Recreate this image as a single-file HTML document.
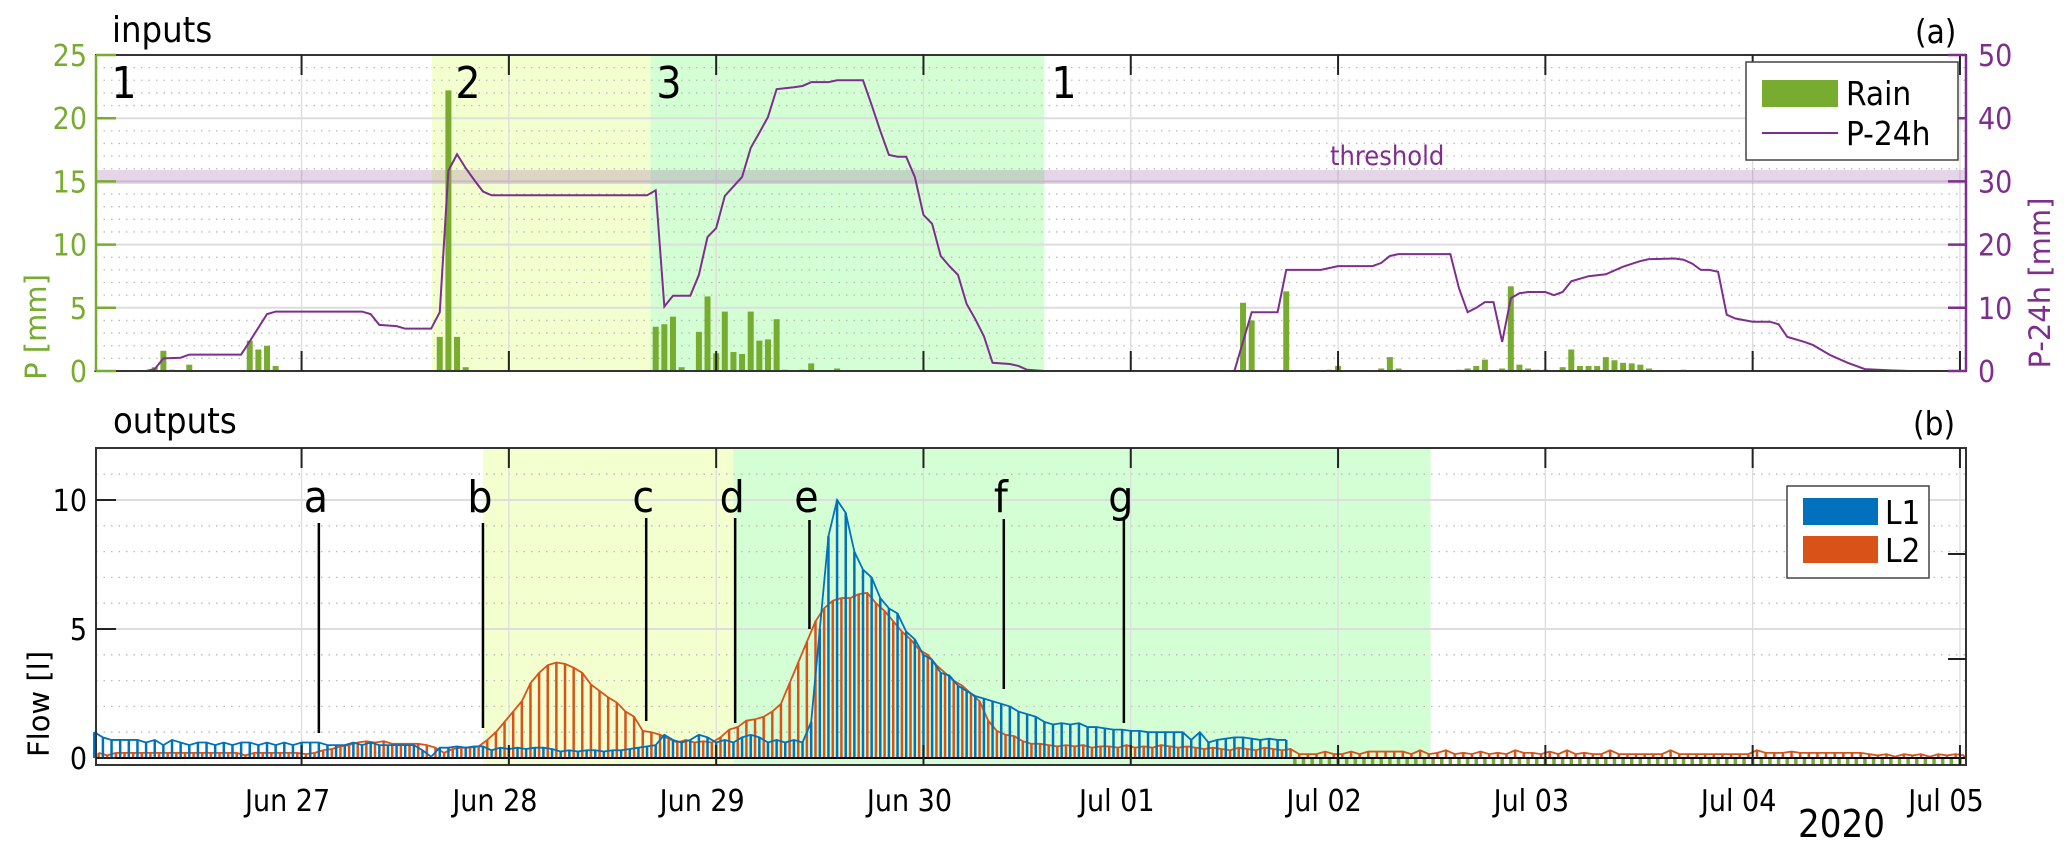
<!DOCTYPE html>
<html><head><meta charset="utf-8"><style>
body{margin:0;background:#fff}
svg{display:block;font-family:"DejaVu Sans Condensed","DejaVu Sans","Liberation Sans",sans-serif}
</style></head><body>
<svg id="chart" width="2067" height="850" viewBox="0 0 2067 850" xmlns="http://www.w3.org/2000/svg">
<g id="bg"></g><g id="grid"></g><g id="marks"></g><g id="axes"></g><g id="labels"></g>
</svg>
<script>
// ---- data ----
const dayLabels = ["Jun 27","Jun 28","Jun 29","Jun 30","Jul 01","Jul 02","Jul 03","Jul 04","Jul 05"];
const leftTicksTop = [0,5,10,15,20,25];
const rightTicksTop = [0,10,20,30,40,50];
const leftTicksBottom = [0,5,10];
const rainHours = [7,8,9,11,18,19,20,21,40,41,42,43,65,66,67,68,70,71,72,73,74,75,76,77,78,79,80,82,83,86,133,134,138,143,144,149,150,151,158,159,160,161,163,164,165,166,167,168,170,171,172,173,174,175,176,177,178,179,180,184];
const rainValues = [0.3,1.6,0.1,0.5,2.4,1.7,2.0,0.4,2.7,22.2,2.7,0.3,3.5,3.7,4.3,0.3,3.1,5.9,1.4,4.7,1.5,1.35,4.7,2.4,2.5,4.1,0.1,0.1,0.6,0.2,5.4,4.0,6.3,0.1,0.4,0.2,1.1,0.2,0.1,0.2,0.4,0.9,0.2,6.7,0.5,0.2,0.1,0.1,0.3,1.7,0.4,0.4,0.4,1.1,0.85,0.65,0.6,0.5,0.2,0.1];
const p24Hours = [0,6,7,8,10,11,17,18,20,21,31,32,33,35,36,39,40,41,42,43,44,45,46,64,65,66,67,69,70,71,72,73,75,76,77,78,79,81,82,83,85,86,89,90,91,92,93,94,95,96,97,98,99,100,101,102,103,104,106,107,108,110,132,134,137,138,142,144,148,149,150,151,157,158,159,160,161,162,163,164,165,166,168,169,170,171,173,175,177,179,180,183,184,185,186,187,188,189,190,192,194,195,196,198,199,201,203,205,208,210,216];
const p24Values = [0,0,0.3,2.0,2.1,2.6,2.6,4.7,9.0,9.4,9.4,9.0,7.3,7.1,6.7,6.7,9.3,31.7,34.3,32.1,30.2,28.4,27.8,27.8,28.6,10.2,11.9,11.9,15.2,21.2,22.6,27.7,30.7,35.3,37.7,40.2,44.6,44.9,45.1,45.7,45.7,46.0,46.0,42.1,38.0,34.2,33.9,33.9,30.7,24.7,23.3,18.2,16.6,15.2,10.6,8.2,5.5,1.3,1.1,0.8,0.2,0,0,9.3,9.3,16.0,16.0,16.6,16.6,17.1,18.2,18.5,18.5,13.1,9.3,10.0,10.9,10.9,4.6,11.5,12.3,12.5,12.5,12.0,12.5,14.2,15.0,15.3,16.5,17.4,17.7,17.8,17.6,17.0,16.0,16.0,15.7,8.9,8.3,7.8,7.8,7.4,5.4,4.6,4.1,2.5,1.3,0.3,0.1,0,0];
const l1Flow = [1.0,0.8,0.7,0.7,0.7,0.7,0.6,0.7,0.5,0.7, 0.6,0.5,0.6,0.6,0.5,0.6,0.5,0.6,0.6,0.5, 0.6,0.5,0.6,0.5,0.6,0.6,0.6,0.5,0.5,0.5, 0.6,0.5,0.6,0.5,0.5,0.5,0.5,0.5,0.3,0.05, 0.4,0.4,0.45,0.4,0.45,0.45,0.3,0.4,0.35,0.4, 0.35,0.4,0.4,0.35,0.25,0.3,0.25,0.3,0.3,0.25, 0.3,0.3,0.35,0.4,0.45,0.5,0.9,0.7,0.6,0.7, 0.9,0.8,0.6,0.7,0.6,0.8,0.9,0.8,0.6,0.7, 0.6,0.7,0.6,1.4,5.0,8.6,10.0,9.5,8.0,7.3, 7.0,6.2,5.8,5.6,4.9,4.6,4.0,3.8,3.3,3.2, 2.8,2.6,2.4,2.3,2.2,2.1,2.0,1.8,1.7,1.6, 1.4,1.3,1.35,1.3,1.35,1.2,1.2,1.15,1.1,1.1, 1.05,1.05,1.0,1.0,1.0,1.0,1.0,0.7,1.0,0.6, 0.7,0.75,0.8,0.8,0.75,0.7,0.75,0.7,0.7];
const l2Flow = [0.2,0.1,0.2,0.2,0.2,0.2,0.2,0.2,0.2,0.2, 0.2,0.2,0.2,0.2,0.2,0.2,0.2,0.1,0.2,0.2, 0.2,0.2,0.2,0.2,0.15,0.2,0.3,0.35,0.45,0.5, 0.6,0.65,0.6,0.65,0.55,0.55,0.55,0.55,0.5,0.4, 0.2,0.35,0.4,0.4,0.45,0.7,1.0,1.4,1.8,2.2, 2.9,3.3,3.6,3.7,3.65,3.5,3.3,2.85,2.6,2.35, 2.15,1.8,1.6,1.05,1.0,0.9,0.75,0.6,0.7,0.6, 0.65,0.6,0.8,1.1,1.2,1.45,1.5,1.6,1.8,2.1, 2.9,3.7,4.5,5.3,5.8,6.1,6.2,6.2,6.35,6.4, 6.0,5.7,5.3,4.9,4.6,4.2,4.0,3.6,3.3,3.0, 2.8,2.5,2.2,1.45,1.05,0.9,0.85,0.65,0.55,0.55, 0.5,0.45,0.5,0.45,0.5,0.4,0.45,0.45,0.4,0.5, 0.4,0.45,0.4,0.5,0.45,0.4,0.45,0.4,0.35,0.4, 0.35,0.3,0.4,0.35,0.3,0.4,0.35,0.3,0.35,0.15, 0.15,0.15,0.25,0.15,0.15,0.25,0.15,0.25,0.25,0.25, 0.25,0.25,0.15,0.3,0.15,0.2,0.3,0.15,0.2,0.15, 0.25,0.15,0.2,0.15,0.3,0.2,0.2,0.15,0.25,0.15, 0.3,0.15,0.2,0.15,0.15,0.3,0.15,0.15,0.15,0.15, 0.15,0.15,0.3,0.15,0.15,0.15,0.15,0.15,0.15,0.15, 0.15,0.15,0.3,0.2,0.2,0.2,0.25,0.2,0.2,0.2, 0.2,0.2,0.2,0.2,0.2,0.15,0.1,0.15,0.05,0.15, 0.1,0.15,0.05,0.15,0.1,0.15,0.1];
const l3Start = 139, l3End = 216, l3Value = -0.3;
const topPeriods = [[39.1,64.4,"#f4ffd0"],[64.4,110,"#d4ffd4"]];
const bottomPeriods = [[45,74,"#f4ffd0"],[74,154.7,"#d4ffd4"]];
const threshold = [29.6,31.8];
const periodLabels = [["1",124],["2",468],["3",669],["1",1064]];
const eventNames = ["a","b","c","d","e","f","g"];
const eventHours = [26.0,45.0,63.9,74.2,82.8,105.3,119.2];
const eventTops = [523,523,518,518,520,519,520];
const eventBottoms = [733,728,721,723,629,689,723];

// ---- scales ----
const H0=0.2,H1=216.7,XL=96,XR=1966;
const X=h=>XL+(h-H0)*(XR-XL)/(H1-H0);
const TT=55,TB=371;
const YL=v=>TB-v*(TB-TT)/25;
const YR=v=>TB-v*(TB-TT)/50;
const BT=448,BB=765,B0=758;
const YB=v=>B0-v*25.8;
const dayHour=i=>24*(i+1);

const NS="http://www.w3.org/2000/svg";
function mk(parent,tag,attrs,text){const e=document.createElementNS(NS,tag);for(const k in attrs)e.setAttribute(k,attrs[k]);if(text!==undefined)e.textContent=text;document.getElementById(parent).appendChild(e);return e;}

// backgrounds
topPeriods.forEach(p=>{const r=mk("bg","rect",{x:X(p[0]),y:TT,width:X(p[1])-X(p[0]),height:TB-TT,fill:p[2]});

});
bottomPeriods.forEach(p=>{const r=mk("bg","rect",{x:X(p[0]),y:BT,width:X(p[1])-X(p[0]),height:BB-BT,fill:p[2]});

});

// grid
for(let v=1;v<25;v++){if(v%5)mk("grid","line",{x1:XL,x2:XR,y1:YL(v),y2:YL(v),stroke:"#bbb","stroke-width":1.3,"stroke-dasharray":"1.5 6"});}
for(let v=5;v<25;v+=5)mk("grid","line",{x1:XL,x2:XR,y1:YL(v),y2:YL(v),stroke:"#ddd","stroke-width":2});
for(let v=1;v<12;v++){if(v%5)mk("grid","line",{x1:XL,x2:XR,y1:YB(v),y2:YB(v),stroke:"#bbb","stroke-width":1.3,"stroke-dasharray":"1.5 6"});}
for(let v=5;v<12;v+=5)mk("grid","line",{x1:XL,x2:XR,y1:YB(v),y2:YB(v),stroke:"#ddd","stroke-width":2});
dayLabels.forEach((d,i)=>{const x=X(dayHour(i));if(x<XR-2){mk("grid","line",{x1:x,x2:x,y1:TT,y2:TB,stroke:"#ddd","stroke-width":1.3});mk("grid","line",{x1:x,x2:x,y1:BT,y2:BB,stroke:"#ddd","stroke-width":1.3});}});

// threshold band
const tb=mk("marks","rect",{x:XL,y:YR(threshold[1]),width:XR-XL,height:YR(threshold[0])-YR(threshold[1]),fill:"#7E2F8E","fill-opacity":0.2});


const tt=mk("labels","text",{x:1330,y:165,fill:"#7E2F8E","font-size":27},"threshold");



// rain bars
rainHours.forEach((h,i)=>{const r=mk("marks","rect",{x:X(h)-3,y:YL(rainValues[i]),width:6,height:TB-YL(rainValues[i]),fill:"#77AC30"});

});
// P-24h line
const pl=mk("marks","polyline",{points:p24Hours.map((h,i)=>X(h)+","+YR(p24Values[i])).join(" "),fill:"none",stroke:"#7E2F8E","stroke-width":2});



// flow stems
function stems(vals,off,color,name){
  vals.forEach((v,i)=>{const s=mk("marks","line",{x1:X(i+off),x2:X(i+off),y1:YB(0),y2:YB(v),stroke:color,"stroke-width":2.5});
  
  });
  const l=mk("marks","polyline",{points:vals.map((v,i)=>X(i+off)+","+YB(v)).join(" "),fill:"none",stroke:color,"stroke-width":1.8});
  
  
}
stems(l2Flow,0.5,"#D95319","l2");
stems(l1Flow,0,"#0072BD","l1");
for(let h=l3Start;h<=l3End;h++){const s=mk("marks","line",{x1:X(h),x2:X(h),y1:YB(0),y2:YB(l3Value),stroke:"#77AC30","stroke-width":3.5});

}
mk("marks","line",{x1:XL,x2:XR,y1:YB(0),y2:YB(0),stroke:"#000","stroke-width":2});

// events
eventNames.forEach((n,i)=>{const x=X(eventHours[i]);
const l=mk("marks","line",{x1:x,x2:x,y1:eventTops[i],y2:eventBottoms[i],stroke:"#000","stroke-width":2.5});


const t=mk("labels","text",{x:x-3,y:512,"font-size":44,"text-anchor":"middle"},n);

});
periodLabels.forEach(p=>{const t=mk("labels","text",{x:p[1],y:98,"font-size":44,"text-anchor":"middle"},p[0]);

});

// axes
mk("axes","rect",{x:XL,y:TT,width:XR-XL,height:TB-TT,fill:"none",stroke:"#333","stroke-width":2});
mk("axes","line",{x1:XL,x2:XL,y1:TT,y2:TB,stroke:"#77AC30","stroke-width":2.5});
mk("axes","line",{x1:XR,x2:XR,y1:TT,y2:TB,stroke:"#7E2F8E","stroke-width":2.5});
mk("axes","rect",{x:XL,y:BT,width:XR-XL,height:BB-BT,fill:"none",stroke:"#333","stroke-width":2});
dayLabels.forEach((d,i)=>{const x=X(dayHour(i));
 [[TT,TT+20],[TB,TB-20],[BT,BT+20],[BB,BB-20]].forEach(s=>mk("axes","line",{x1:x,x2:x,y1:s[0],y2:s[1],stroke:"#222","stroke-width":2}));
 const t=mk("labels","text",{x:x-14,y:811,"font-size":30,"text-anchor":"middle"},d);
 
 });
leftTicksTop.forEach(v=>{mk("axes","line",{x1:XL,x2:XL+20,y1:YL(v),y2:YL(v),stroke:"#77AC30","stroke-width":2.5});
 const t=mk("labels","text",{x:87,y:YL(v)+11,"font-size":30,fill:"#77AC30","text-anchor":"end"},v);
 
 });
rightTicksTop.forEach(v=>{mk("axes","line",{x1:XR,x2:XR-18,y1:YR(v),y2:YR(v),stroke:"#7E2F8E","stroke-width":2.5});
 const t=mk("labels","text",{x:1978,y:YR(v)+11,"font-size":30,fill:"#7E2F8E"},v);
 
 });
leftTicksBottom.forEach(v=>{mk("axes","line",{x1:XL,x2:XL+20,y1:YB(v),y2:YB(v),stroke:"#222","stroke-width":2});
 const t=mk("labels","text",{x:87,y:YB(v)+11,"font-size":30,"text-anchor":"end"},v);
 
 });
[554,659].forEach(y=>mk("axes","line",{x1:XR,x2:XR-18,y1:y,y2:y,stroke:"#222","stroke-width":2}));
</script>
<svg style="position:absolute;left:0;top:0" width="2067" height="850">
<g font-family="DejaVu Sans Condensed, DejaVu Sans, Liberation Sans, sans-serif">
<text x="112" y="42" font-size="36">inputs</text>
<text x="113" y="433" font-size="36">outputs</text>
<text x="1915" y="43" font-size="33">(a)</text>
<text x="1913" y="435" font-size="33">(b)</text>
<text x="1798" y="837" font-size="38">2020</text>
<text transform="translate(46,327) rotate(-90)" font-size="29" fill="#77AC30" text-anchor="middle" font-family="DejaVu Sans, sans-serif">P [mm]</text>
<text transform="translate(2050,283) rotate(-90)" font-size="29" fill="#7E2F8E" text-anchor="middle" font-family="DejaVu Sans, sans-serif">P-24h [mm]</text>
<text transform="translate(49,704) rotate(-90)" font-size="29" text-anchor="middle" font-family="DejaVu Sans, sans-serif">Flow [l]</text>
<g>
<rect x="1746" y="62" width="212" height="98" fill="#fff" stroke="#444" stroke-width="1.5"/>
<rect x="1762" y="80" width="76" height="27" fill="#77AC30"/>
<text x="1846" y="105" font-size="33">Rain</text>
<line x1="1762" x2="1838" y1="133" y2="133" stroke="#7E2F8E" stroke-width="2"/>
<text x="1846" y="145" font-size="33">P-24h</text>
</g>
<g>
<rect x="1787" y="486" width="142" height="92" fill="#fff" stroke="#444" stroke-width="1.5"/>
<rect x="1803" y="498" width="75" height="27" fill="#0072BD"/>
<text x="1885" y="524" font-size="33">L1</text>
<rect x="1803" y="536" width="75" height="27" fill="#D95319"/>
<text x="1885" y="562" font-size="33">L2</text>
</g>
</g>
</svg>
</body></html>
